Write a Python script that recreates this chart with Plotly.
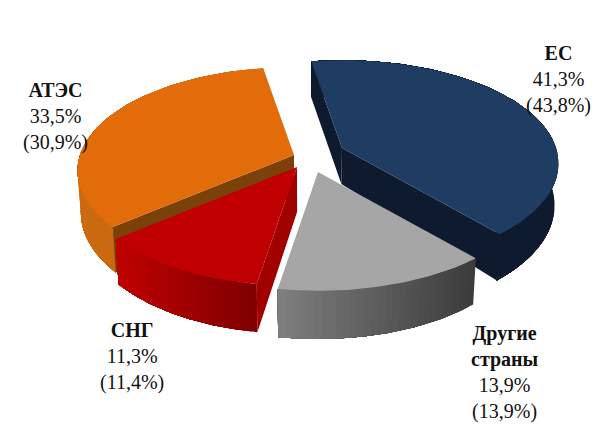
import numpy as np
import plotly.graph_objects as go

# data
names = ["ЕС", "Другие<br>страны", "СНГ", "АТЭС"]
shares = [41.3, 13.9, 11.3, 33.5]
shares_prev = [43.8, 13.9, 11.4, 30.9]

# look of the slices (same order as the data)
top_colors = ["#1F3C63", "#A6A6A6", "#C00000", "#E36C0A"]
wall_left = ["#0E1A2E", "#808080", "#C00000", "#CC6A10"]
wall_right = ["#0E1A2E", "#3C3C3C", "#800000", "#BF6410"]
cut_colors = ["#0E1A2E", "#3C3C3C", "#A00000", "#7A4208"]
apexes = [(342, 148), (318, 172), (297, 167), (294, 155)]
apex_depth = [36, 42, 45, 41]
cut_start = [True, False, True, True]
cut_end = [True, False, False, False]
draw_order = [3, 0, 2, 1]
label_pos = [(558, 40), (505, 320), (132, 317), (55, 77)]

START_ANGLE = -9.5
RX, RY, PERSP, DEPTH, MID_X = 214, 101, 0.15, 41, 300
PAGE_MARGIN = 8  # the page body keeps its default margin, axes are shifted to make up for it

fig = go.Figure()


def rim(apex, ang):
    # top rim point and the point under it, with a bit of perspective
    a = np.radians(ang)
    s = 1 / (1 + PERSP * np.cos(a))
    x = apex[0] + RX * np.sin(a) * s
    y = apex[1] - RY * np.cos(a) * s
    return x, y, MID_X + (x - MID_X) * 0.985, y + DEPTH * s


def under(p, depth):
    return MID_X + (p[0] - MID_X) * 0.985, p[1] + depth


def poly(xs, ys, color):
    fig.add_trace(go.Scatter(
        x=xs, y=ys, mode="lines", fill="toself", fillcolor=color,
        line=dict(color=color, width=0), hoverinfo="skip", showlegend=False,
    ))


def mix(c1, c2, t):
    a = [int(c1[i:i + 2], 16) for i in (1, 3, 5)]
    b = [int(c2[i:i + 2], 16) for i in (1, 3, 5)]
    return "rgb(%d,%d,%d)" % tuple(round(u + (v - u) * t) for u, v in zip(a, b))


edges = START_ANGLE + np.concatenate([[0], np.cumsum(shares)]) * 360 / sum(shares)

for i in draw_order:
    a1, a2 = edges[i], edges[i + 1]
    apex = apexes[i]
    angs = np.linspace(a1, a2, 61)
    pts = [rim(apex, a) for a in angs]

    # outer wall: walk along the rim from the right side on screen, each piece
    # painted over the previous one so the gradient has no seams
    order = sorted(range(len(pts)), key=lambda k: -pts[k][0])
    xmin = min(p[0] for p in pts)
    xmax = max(p[0] for p in pts)
    for k in order[::2]:
        band = [p for p in pts if p[0] <= pts[k][0] + 0.01]
        t = (pts[k][0] - xmin) / (xmax - xmin)
        xs = [p[0] for p in band] + [p[2] for p in band[::-1]]
        ys = [p[1] for p in band] + [p[3] for p in band[::-1]]
        poly(xs + xs[:1], ys + ys[:1], mix(wall_left[i], wall_right[i], t))

    # cut faces
    low = under(apex, apex_depth[i])
    if cut_start[i]:
        p = pts[0]
        poly([apex[0], p[0], p[2], low[0], apex[0]], [apex[1], p[1], p[3], low[1], apex[1]], cut_colors[i])
    if cut_end[i]:
        p = pts[-1]
        poly([apex[0], p[0], p[2], low[0], apex[0]], [apex[1], p[1], p[3], low[1], apex[1]], cut_colors[i])

    # top face
    poly([apex[0]] + [p[0] for p in pts] + [apex[0]],
         [apex[1]] + [p[1] for p in pts] + [apex[1]], top_colors[i])


def pct(v):
    return f"{v:.1f}".replace(".", ",") + "%"


for name, v, v0, pos in zip(names, shares, shares_prev, label_pos):
    fig.add_annotation(
        x=pos[0], y=pos[1], xref="x", yref="y", xanchor="center", yanchor="top",
        text=f"<b>{name}</b><br>{pct(v)}<br>({pct(v0)})",
        showarrow=False, align="center",
        font=dict(family="Liberation Serif", size=20, color="#111111"),
    )

fig.update_layout(
    width=611, height=431, autosize=False,
    margin=dict(l=0, r=0, t=0, b=0),
    paper_bgcolor="white", plot_bgcolor="white",
    xaxis=dict(range=[PAGE_MARGIN, 611 + PAGE_MARGIN], visible=False),
    yaxis=dict(range=[431 + PAGE_MARGIN, PAGE_MARGIN], visible=False),
)

fig.write_html("out.html")
